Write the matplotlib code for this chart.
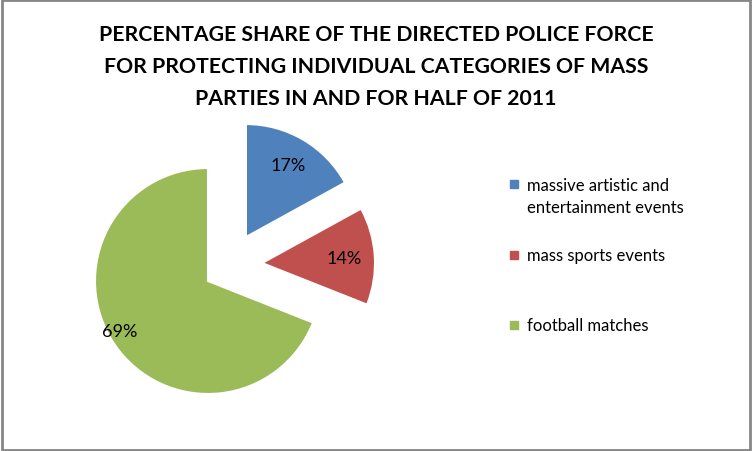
import matplotlib
matplotlib.use("Agg")
import matplotlib.pyplot as plt
from matplotlib.patches import Rectangle
import numpy as np

# data
categories = ["massive artistic and\nentertainment events", "mass sports events", "football matches"]
shares = [17, 14, 69]
pct_labels = ["17%", "14%", "69%"]
colors = ["#4F81BD", "#C0504D", "#9BBB59"]

title = ("PERCENTAGE SHARE OF THE DIRECTED POLICE FORCE\n"
         "FOR PROTECTING INDIVIDUAL CATEGORIES OF MASS\n"
         "PARTIES IN AND FOR HALF OF 2011")

W, H = 752, 452
R = 113.0          # pie radius in pixels
cx, cy = 208, 282  # centre of the (non exploded) pie, pixels from top-left

fig = plt.figure(figsize=(W / 100, H / 100), dpi=100)
ax = fig.add_axes([0, 0, 1, 1])

wedges, _ = ax.pie(shares, colors=colors, startangle=90, counterclock=False,
                   radius=1, wedgeprops=dict(edgecolor="white", linewidth=1.5))

# excel style explode, each slice pulled out by its own amount
offsets = [(0.336, 0.389), (0.478, 0.159), (0.0, 0.0)]
label_r = [0.74, 0.73, 0.90]
label_shift = [0, 0, -5]   # degrees, nudges the 69% label like excel does
for w, off, lab, lr, sh in zip(wedges, offsets, pct_labels, label_r, label_shift):
    w.set_center(off)
    mid = np.deg2rad((w.theta1 + w.theta2) / 2 + sh)
    ax.text(off[0] + lr * np.cos(mid), off[1] + lr * np.sin(mid), lab,
            ha="center", va="center", fontsize=13, family="Lato", color="black")

ax.set_xlim(-cx / R, (W - cx) / R)
ax.set_ylim(-(H - cy) / R, cy / R)
ax.set_aspect("equal")
ax.axis("off")

fig.text(0.5, 1 - 67 / H, title, ha="center", va="center", fontsize=15.3,
         fontweight="bold", family="Lato", linespacing=1.72)

# legend drawn by hand to keep Excel's uneven spacing
leg_y = [185, 256, 326]
text_y = [197, 256, 326]
for c, lab, y, ty in zip(colors, categories, leg_y, text_y):
    fig.patches.append(Rectangle((510 / W, 1 - (y + 4) / H), 8 / W, 8 / H,
                                 transform=fig.transFigure, color=c))
    fig.text(527 / W, 1 - ty / H, lab, ha="left", va="center",
             fontsize=12, family="Lato", linespacing=1.45)

# grey chart border
fig.patches.append(Rectangle((0.002, 0.003), 0.996, 0.994, transform=fig.transFigure,
                             fill=False, edgecolor="#868686", linewidth=2))

fig.savefig("out.png", dpi=100, facecolor="white")
